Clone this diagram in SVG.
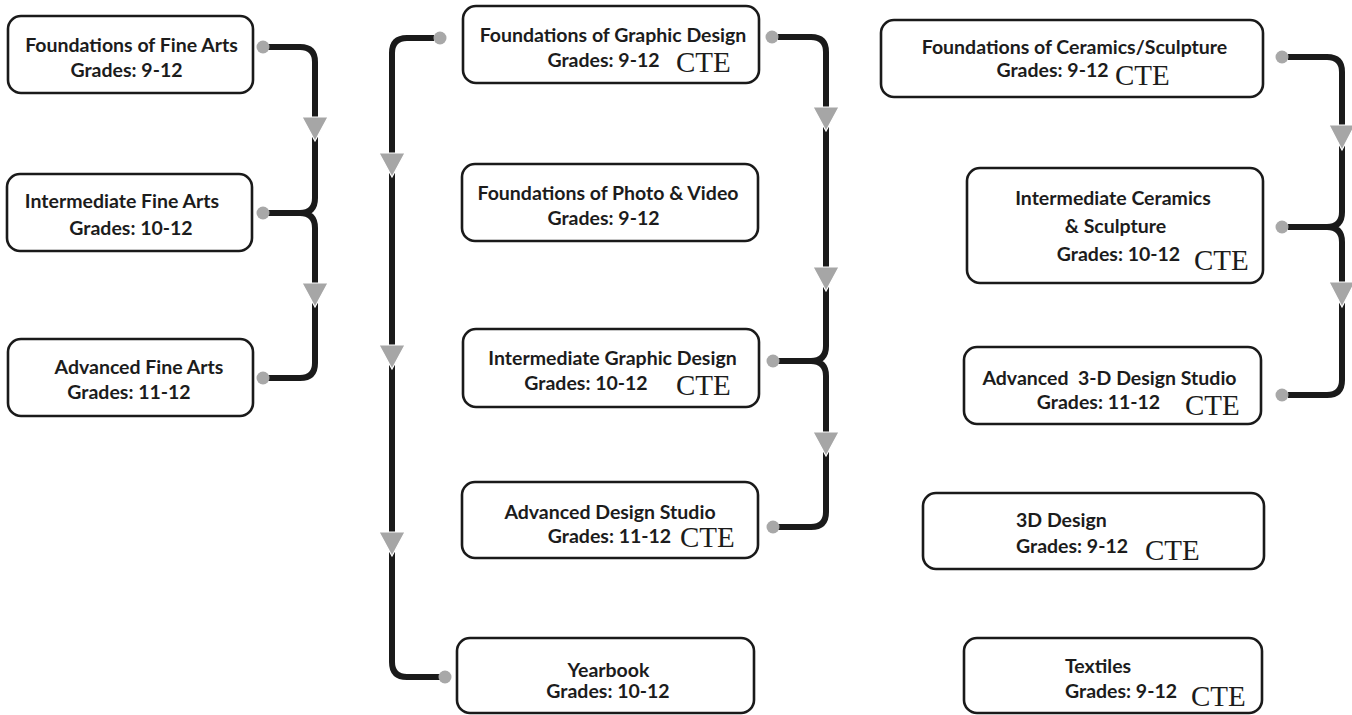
<svg xmlns="http://www.w3.org/2000/svg" width="1352" height="715" viewBox="0 0 1352 715">
<defs>
<style>
.box{fill:#fff;stroke:#1a1a1a;stroke-width:2.6}
.t{font-family:Lato,"Liberation Sans",sans-serif;font-weight:700;font-size:19.5px;fill:#1c1c1c;text-anchor:middle}
.s{text-anchor:start}
.cte{font-family:"Liberation Serif","DejaVu Serif",serif;font-size:29px;fill:#1c1c1c}
.ln{fill:none;stroke:#1a1a1a;stroke-width:6;stroke-linecap:butt}
.dot{fill:#a8a8a8}
.arr{fill:#a6a6a6;stroke:#fff;stroke-width:1.2}
</style>
</defs>
<rect width="1352" height="715" fill="#fff"/>
<g id="connectors">
<path class="ln" d="M268,47 H300 Q315,47 315,62 V198 Q315,213 300,213 H268 M300,213 Q315,213 315,228 V363 Q315,378 300,378 H268"/>
<path class="ln" d="M434,38 H407 Q392,38 392,53 V662 Q392,677 407,677 H440"/>
<path class="ln" d="M778,37 H811 Q826,37 826,52 V346 Q826,361 811,361 H778 M811,361 Q826,361 826,376 V512 Q826,527 811,527 H778"/>
<path class="ln" d="M1288,57 H1327 Q1342,57 1342,72 V212 Q1342,227 1327,227 H1288 M1327,227 Q1342,227 1342,242 V380 Q1342,395 1327,395 H1288"/>
<circle class="dot" cx="263" cy="47" r="6.5"/>
<circle class="dot" cx="263" cy="213" r="6.5"/>
<circle class="dot" cx="263" cy="378" r="6.5"/>
<circle class="dot" cx="440" cy="38" r="6.5"/>
<circle class="dot" cx="445" cy="677" r="6.5"/>
<circle class="dot" cx="772" cy="37" r="6.5"/>
<circle class="dot" cx="773" cy="361" r="6.5"/>
<circle class="dot" cx="773" cy="527" r="6.5"/>
<circle class="dot" cx="1282" cy="57" r="6.5"/>
<circle class="dot" cx="1282" cy="227" r="6.5"/>
<circle class="dot" cx="1282" cy="395" r="6.5"/>
<polygon class="arr" points="302,117 328,117 315,141"/>
<polygon class="arr" points="302,283 328,283 315,307"/>
<polygon class="arr" points="379,153 405,153 392,177"/>
<polygon class="arr" points="379,345 405,345 392,369"/>
<polygon class="arr" points="379,532 405,532 392,556"/>
<polygon class="arr" points="813,107 839,107 826,131"/>
<polygon class="arr" points="813,267 839,267 826,291"/>
<polygon class="arr" points="813,432 839,432 826,456"/>
<polygon class="arr" points="1329,125 1355,125 1342,150"/>
<polygon class="arr" points="1329,282 1355,282 1342,307"/>
</g>
<g id="fine-arts-foundations">
<rect class="box" x="8" y="16" width="245" height="77" rx="13"/>
<text class="t" x="131.5" y="52">Foundations of Fine Arts</text>
<text class="t" x="126.5" y="77">Grades: 9-12</text>
</g>
<g id="fine-arts-intermediate">
<rect class="box" x="7" y="174" width="245" height="77" rx="13"/>
<text class="t" x="122" y="208">Intermediate Fine Arts</text>
<text class="t" x="131" y="235">Grades: 10-12</text>
</g>
<g id="fine-arts-advanced">
<rect class="box" x="8" y="339" width="245" height="77" rx="13"/>
<text class="t" x="139" y="374">Advanced Fine Arts</text>
<text class="t" x="129" y="399">Grades: 11-12</text>
</g>
<g id="graphic-foundations">
<rect class="box" x="463" y="6" width="296" height="77" rx="13"/>
<text class="t" x="613" y="42">Foundations of Graphic Design</text>
<text class="t" x="603.5" y="67">Grades: 9-12</text>
<text class="cte" x="676" y="72">CTE</text>
</g>
<g id="photo-video">
<rect class="box" x="462" y="164" width="296" height="77" rx="13"/>
<text class="t" x="608" y="200">Foundations of Photo &amp; Video</text>
<text class="t" x="603.5" y="225">Grades: 9-12</text>
</g>
<g id="graphic-intermediate">
<rect class="box" x="463" y="329" width="296" height="78" rx="13"/>
<text class="t" x="612.5" y="365">Intermediate Graphic Design</text>
<text class="t" x="586" y="390">Grades: 10-12</text>
<text class="cte" x="676" y="395">CTE</text>
</g>
<g id="design-studio">
<rect class="box" x="462" y="482" width="296" height="76" rx="13"/>
<text class="t" x="610" y="519">Advanced Design Studio</text>
<text class="t" x="609.5" y="543">Grades: 11-12</text>
<text class="cte" x="680" y="547">CTE</text>
</g>
<g id="yearbook">
<rect class="box" x="457" y="638" width="297" height="75" rx="13"/>
<text class="t" x="608.5" y="677">Yearbook</text>
<text class="t" x="608" y="698">Grades: 10-12</text>
</g>
<g id="ceramics-foundations">
<rect class="box" x="881" y="20" width="382" height="77" rx="13"/>
<text class="t" x="1074.5" y="54">Foundations of Ceramics/Sculpture</text>
<text class="t" x="1052.5" y="77">Grades: 9-12</text>
<text class="cte" x="1115" y="85">CTE</text>
</g>
<g id="ceramics-intermediate">
<rect class="box" x="967" y="168" width="296" height="115" rx="13"/>
<text class="t" x="1113" y="205">Intermediate Ceramics</text>
<text class="t" x="1115.5" y="233">&amp; Sculpture</text>
<text class="t" x="1118.5" y="261">Grades: 10-12</text>
<text class="cte" x="1194" y="270">CTE</text>
</g>
<g id="3d-studio">
<rect class="box" x="964" y="347" width="297" height="77" rx="13"/>
<text class="t" x="1109.5" y="385" xml:space="preserve">Advanced  3-D Design Studio</text>
<text class="t" x="1098.5" y="409">Grades: 11-12</text>
<text class="cte" x="1185" y="415">CTE</text>
</g>
<g id="3d-design">
<rect class="box" x="923" y="493" width="341" height="76" rx="13"/>
<text class="t s" x="1016" y="527">3D Design</text>
<text class="t s" x="1016" y="553">Grades: 9-12</text>
<text class="cte" x="1145" y="560">CTE</text>
</g>
<g id="textiles">
<rect class="box" x="964" y="638" width="298" height="75" rx="13"/>
<text class="t s" x="1065" y="673">Textiles</text>
<text class="t s" x="1065" y="698">Grades: 9-12</text>
<text class="cte" x="1191" y="706">CTE</text>
</g>
</svg>
